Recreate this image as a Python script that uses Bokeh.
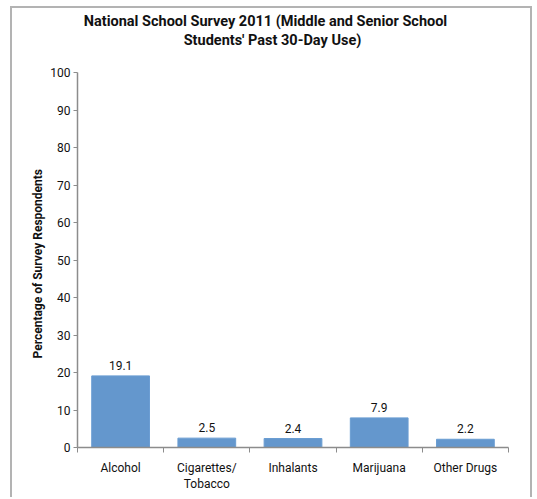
from bokeh.plotting import figure
from bokeh.models import FixedTicker, Label, Title, ColumnDataSource
from bokeh.core.properties import value
from bokeh.embed import file_html
from bokeh.resources import INLINE

categories = ["Alcohol", "Cigarettes/\nTobacco", "Inhalants", "Marijuana", "Other Drugs"]
values = [19.1, 2.5, 2.4, 7.9, 2.2]
y_ticks = [0, 10, 20, 30, 40, 50, 60, 70, 80, 90, 100]
title_lines = ["National School Survey 2011 (Middle and Senior School",
               "Students' Past 30-Day Use)"]
y_label = "Percentage of Survey Respondents"

FONT = "Roboto"
AXIS_GRAY = "#8c8c8c"

# canvas layout in pixels: the plot frame runs up to the top edge so the
# title can sit inside it; the value axis itself only spans 0..100
CANVAS_H = 491
BORDER_BOTTOM = 52
AXIS_PX = 375                      # pixel height of the 0..100 axis
frame_h = CANVAS_H - BORDER_BOTTOM
y_end = y_ticks[-1] * frame_h / AXIS_PX

centers = [i + 0.5 for i in range(len(categories))]
bounds = [i for i in range(len(categories) + 1)]
src = ColumnDataSource(dict(x=centers, top=values, label=[f"{v:.1f}" for v in values]))

p = figure(width=522, height=CANVAS_H, x_range=(0, len(categories)), y_range=(0, y_end),
           output_backend="svg", toolbar_location=None,
           min_border_left=65, min_border_right=26, min_border_top=0,
           min_border_bottom=BORDER_BOTTOM)
p.margin = (6, 0, 0, 10)
p.styles = {"border-left": "2px solid #b3b3b3", "border-top": "2px solid #b3b3b3",
            "border-right": "2px solid #b3b3b3"}
p.outline_line_color = None
p.xgrid.visible = False
p.ygrid.visible = False

p.vbar(x="x", top="top", width=0.67, source=src, fill_color="#6497cd", line_color="#6a9dd2")
p.text(x="x", y="top", text="label", source=src, text_align="center", text_baseline="bottom",
       y_offset=-6, text_font_size="12px", text_font=value(FONT), text_color="#111111")

# two-line chart title, in pixels from the frame's lower-left corner
for txt, dx, dy in zip(title_lines, (188, 195), (426, 407)):
    p.add_layout(Label(x=dx, y=dy, x_units="screen", y_units="screen", text=txt,
                       text_align="center", text_baseline="alphabetic",
                       text_font=FONT, text_font_size="14.5px", text_font_style="bold",
                       text_color="#111111"))

# value-axis caption, centred on the 0..100 span rather than the full frame
p.add_layout(Title(text=y_label, align="left", offset=89, standoff=6, text_font=FONT,
                   text_font_size="12px", text_font_style="bold", text_color="#111111"),
             "left")

xa = p.xaxis[0]
xa.ticker = FixedTicker(ticks=centers, minor_ticks=bounds)
xa.major_label_overrides = {c: lab for c, lab in zip(centers, categories)}
xa.major_tick_in = 0
xa.major_tick_out = 0
xa.minor_tick_in = 0
xa.minor_tick_out = 5
xa.minor_tick_line_color = AXIS_GRAY
xa.axis_line_color = AXIS_GRAY
xa.axis_line_width = 1.5
xa.major_label_standoff = 8
xa.major_label_text_font = FONT
xa.major_label_text_font_size = "12px"
xa.major_label_text_color = "#111111"

ya = p.yaxis[0]
ya.bounds = (y_ticks[0], y_ticks[-1])
ya.ticker = FixedTicker(ticks=y_ticks)
ya.minor_tick_line_color = None
ya.major_tick_in = 0
ya.major_tick_out = 4
ya.major_tick_line_color = AXIS_GRAY
ya.axis_line_color = AXIS_GRAY
ya.axis_line_width = 1.5
ya.major_label_standoff = 3
ya.major_label_text_font = FONT
ya.major_label_text_font_size = "12px"
ya.major_label_text_color = "#111111"

open("out.html", "w").write(file_html(p, INLINE))
